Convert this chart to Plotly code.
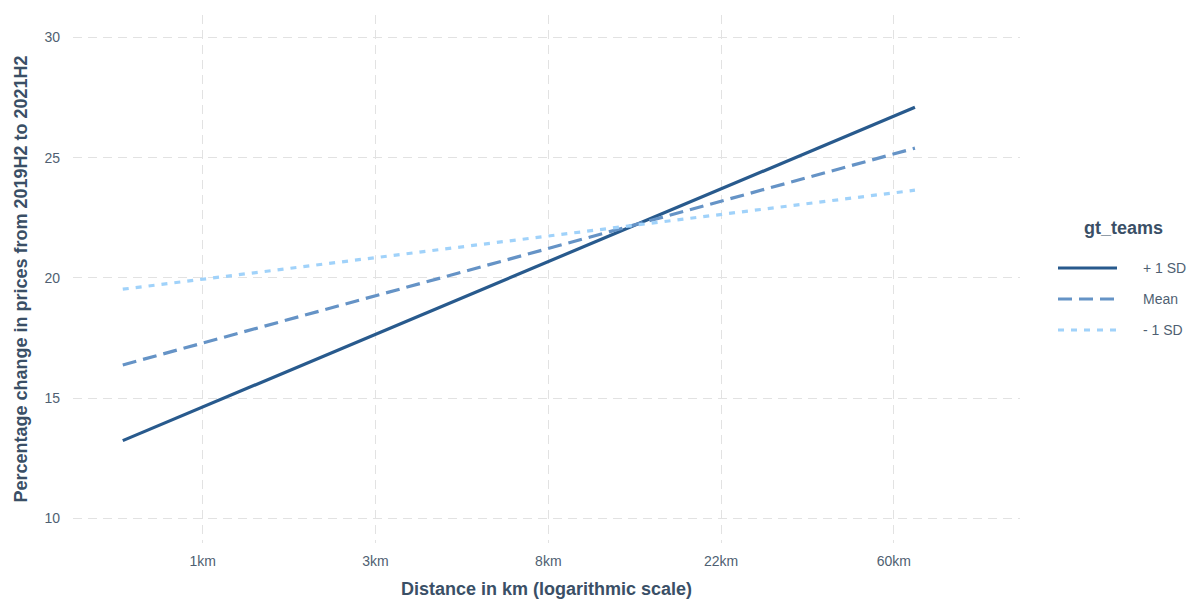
import plotly.graph_objects as go

# Distance on the natural-log scale (ln km) at both ends of the fitted range
log_distance = [-0.463, 4.122]

# Predicted percentage change by team group
series_names = ["+ 1 SD", "Mean", "- 1 SD"]
plus_1sd = [13.23, 27.10]
mean_vals = [16.38, 25.40]
minus_1sd = [19.53, 23.65]

# Axis ticks
x_tickvals = [0, 1, 2, 3, 4]
x_ticktext = ["1km", "3km", "8km", "22km", "60km"]
y_tickvals = [10, 15, 20, 25, 30]

colors = ["#285a8d", "#6593c6", "#a0d2fa"]
dashes = ["solid", "14px,7px", "6px,7px"]
values = [plus_1sd, mean_vals, minus_1sd]

title_color = "#3a4f66"
tick_color = "#4f5f72"
grid_color = "#e2e2e2"
font_family = "Liberation Sans, Arial, sans-serif"

fig = go.Figure()
for name, vals, col, dash in zip(series_names, values, colors, dashes):
    fig.add_trace(go.Scatter(
        x=log_distance, y=vals, mode="lines", name=name,
        line=dict(color=col, width=3.2, dash=dash),
        showlegend=False,
    ))

# Hand-drawn legend on the right
W, H = 1187, 599
L, R, T, B = 73, 1020, 15, 543


def px_x(px):
    return (px - L) / (R - L)


def px_y(py):
    return (B - py) / (B - T)


legend_x0, legend_x1 = 1058, 1117
legend_ys = [268, 299, 330]
shapes = []
annotations = []
for name, col, dash, ly in zip(series_names, colors, dashes, legend_ys):
    shapes.append(dict(
        type="line", xref="paper", yref="paper",
        x0=px_x(legend_x0), x1=px_x(legend_x1), y0=px_y(ly), y1=px_y(ly),
        line=dict(color=col, width=3.2, dash=dash),
    ))
    annotations.append(dict(
        xref="paper", yref="paper", x=px_x(1141), y=px_y(ly),
        text=name, showarrow=False, xanchor="left", yanchor="middle",
        font=dict(family=font_family, size=14, color=tick_color),
    ))
annotations.append(dict(
    xref="paper", yref="paper", x=px_x(1123), y=px_y(228),
    text="<b>gt_teams</b>", showarrow=False, xanchor="center", yanchor="middle",
    font=dict(family=font_family, size=18, color=title_color),
))

fig.update_layout(
    width=W, height=H,
    margin=dict(l=L, r=W - R, t=T, b=H - B),
    plot_bgcolor="white", paper_bgcolor="white",
    font=dict(family=font_family, color=tick_color),
    shapes=shapes, annotations=annotations,
    xaxis=dict(
        range=[-0.751, 4.730], tickvals=x_tickvals, ticktext=x_ticktext,
        showgrid=True, gridcolor=grid_color, griddash="9px,6px", gridwidth=1.4,
        zeroline=False, showline=False, ticks="", automargin=False,
        tickfont=dict(size=14, color=tick_color), ticklabelstandoff=8,
        title=dict(text="<b>Distance in km (logarithmic scale)</b>",
                   font=dict(size=18, color=title_color), standoff=14),
    ),
    yaxis=dict(
        range=[8.97, 30.94], tickvals=y_tickvals,
        showgrid=True, gridcolor=grid_color, griddash="9px,6px", gridwidth=1.4,
        zeroline=False, showline=False, ticks="", automargin=False,
        tickfont=dict(size=14, color=tick_color), ticklabelstandoff=12,
        title=dict(text="<b>Percentage change in prices from 2019H2 to 2021H2</b>",
                   font=dict(size=18, color=title_color), standoff=12),
    ),
)

fig.write_html("out.html")
